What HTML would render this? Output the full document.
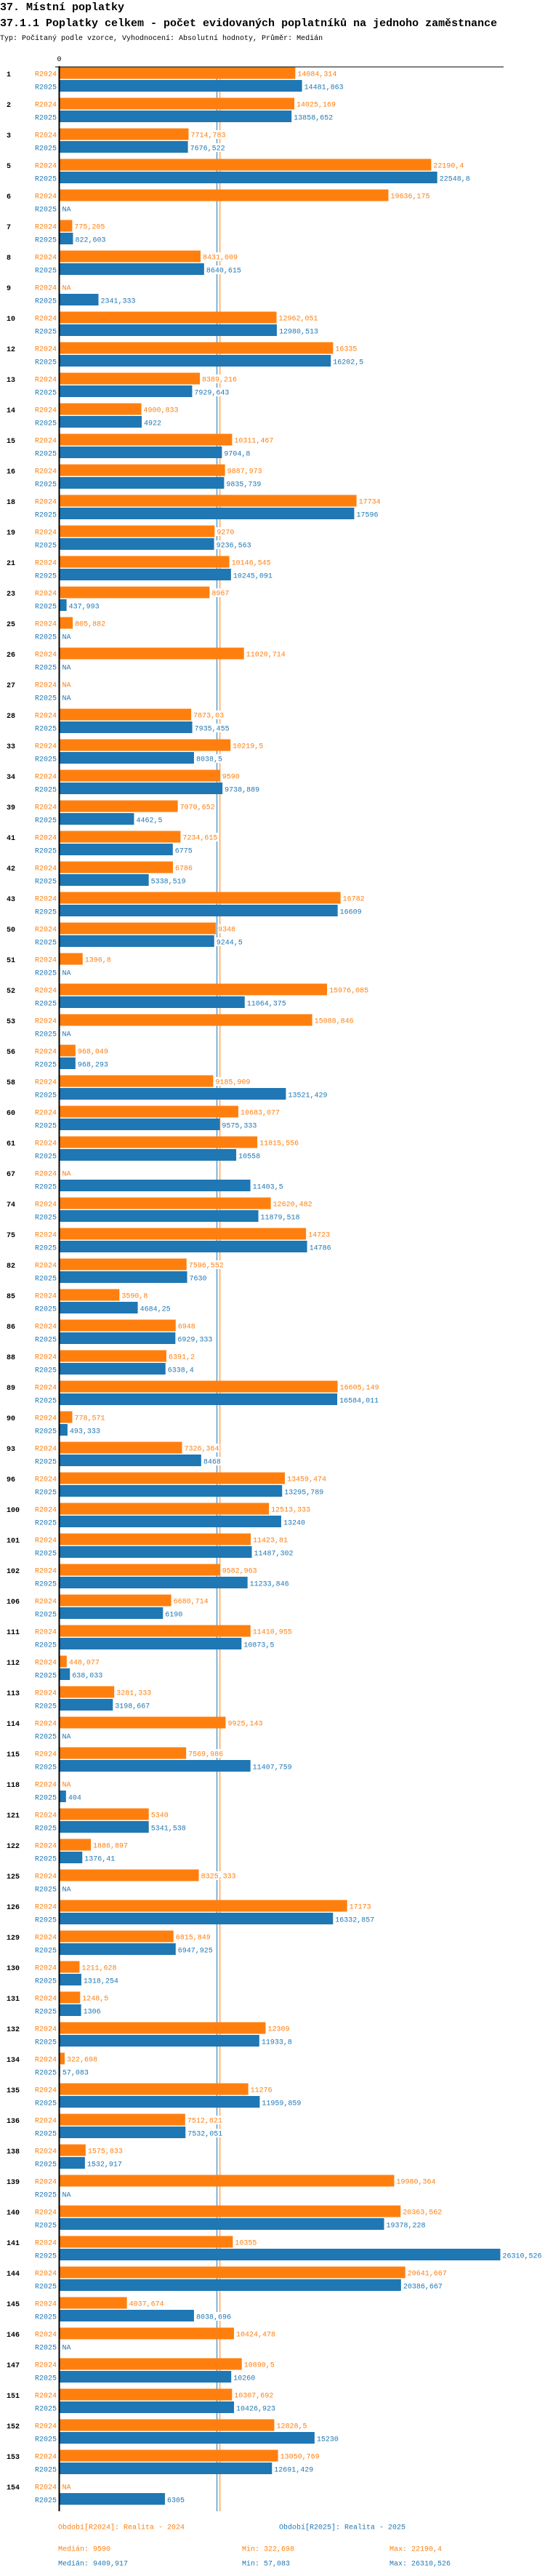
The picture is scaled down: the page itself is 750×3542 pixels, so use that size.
<!DOCTYPE html>
<html><head><meta charset="utf-8"><title>Poplatky celkem</title>
<style>
html,body{margin:0;padding:0;background:#fff;}
svg{display:block;font-family:"Liberation Mono",monospace;}
</style></head>
<body>
<svg id="chart" width="750" height="3542" viewBox="0 0 750 3542" xmlns="http://www.w3.org/2000/svg">
<text x="0" y="14" font-size="15" font-weight="bold" fill="#000">37. Místní poplatky</text>
<text x="0" y="36" font-size="15" font-weight="bold" fill="#000">37.1.1 Poplatky celkem - počet evidovaných poplatníků na jednoho zaměstnance</text>
<text x="0" y="55" font-size="10" fill="#000">Typ: Počítaný podle vzorce, Vyhodnocení: Absolutní hodnoty, Průměr: Medián</text>
<g id="plot"></g>
</svg>
<script>
const groups = [1,2,3,5,6,7,8,9,10,12,13,14,15,16,18,19,21,23,25,26,27,28,33,34,39,41,42,43,50,51,52,53,56,58,60,61,67,74,75,82,85,86,88,89,90,93,96,100,101,102,106,111,112,113,114,115,118,121,122,125,126,129,130,131,132,134,135,136,138,139,140,141,144,145,146,147,151,152,153,154];
const r2024 = [14084.314,14025.169,7714.783,22190.4,19636.175,775.205,8431.009,null,12962.051,16335,8389.216,4900.833,10311.467,9887.973,17734,9270,10146.545,8967,805.882,11020.714,null,7873.03,10219.5,9590,7070.652,7234.615,6786,16782,9348,1396.8,15976.085,15088.846,968.049,9185.909,10683.077,11815.556,null,12620.482,14723,7596.552,3590.8,6948,6391.2,16605.149,778.571,7326.364,13459.474,12513.333,11423.81,9582.963,6680.714,11410.955,448.077,3281.333,9925.143,7569.986,null,5340,1886.897,8325.333,17173,6815.849,1211.628,1248.5,12309,322.698,11276,7512.821,1575.833,19980.364,20363.562,10355,20641.667,4037.674,10424.478,10890.5,10307.692,12828.5,13050.769,null];
const r2025 = [14481.863,13858.652,7676.522,22548.8,null,822.603,8640.615,2341.333,12980.513,16202.5,7929.643,4922,9704.8,9835.739,17596,9236.563,10245.091,437.993,null,null,null,7935.455,8038.5,9738.889,4462.5,6775,5338.519,16609,9244.5,null,11064.375,null,968.293,13521.429,9575.333,10558,11403.5,11879.518,14786,7630,4684.25,6929.333,6338.4,16584.011,493.333,8468,13295.789,13240,11487.302,11233.846,6190,10873.5,638.033,3198.667,null,11407.759,404,5341.538,1376.41,null,16332.857,6947.925,1318.254,1306,11933.8,57.083,11959.859,7532.051,1532.917,null,19378.228,26310.526,20386.667,8038.696,null,10260,10426.923,15230,12691.429,6305];
const seriesNames = ["R2024","R2025"];
const medians = [9590, 9409.917];
const mins = ["322,698","57,083"];
const maxs = ["22190,4","26310,526"];
const legendTexts = ["Období[R2024]: Realita - 2024","Období[R2025]: Realita - 2025"];

const colors = ["#ff7f0e","#1f77b4"];
const X0 = 81.5, K = 0.02307, TOP = 92, PITCH = 42;
const xs = v => X0 + v * K;
const ys = i => TOP + i * PITCH;
const NS = "http://www.w3.org/2000/svg";
const plot = document.getElementById("plot");
function mk(tag, attrs, parent){ const e=document.createElementNS(NS,tag); for(const k in attrs) e.setAttribute(k,attrs[k]); (parent||plot).appendChild(e); return e; }
const fmt = v => String(v).replace('.', ',');
const bottom = ys(groups.length) + 1;

// median lines
medians.forEach((m,s)=>{
  const l = mk("line",{x1:xs(m),x2:xs(m),y1:TOP,y2:bottom,stroke:colors[s],"stroke-width":1});
  
  
});

// zero tick
const z = mk("text",{x:X0,y:84,"font-size":10,"text-anchor":"middle",fill:"#000"});
z.textContent = "0";



const labelLayer = document.createElementNS(NS,"g");
groups.forEach((g,i)=>{
  const gy = ys(i);
  const gl = mk("text",{x:9,y:gy+13,"font-size":10,"font-weight":"bold",fill:"#000"});
  gl.textContent = String(g);
  
  
  [r2024[i], r2025[i]].forEach((v,s)=>{
    const by = gy + (s===0 ? 0.5 : 18);
    const cy = gy + (s===0 ? 9 : 27);
    const sl = mk("text",{x:78,y:cy+3.5,"font-size":10,"text-anchor":"end",fill:colors[s]});
    sl.textContent = seriesNames[s];
    
    
    let endX = X0 + 1;
    if (v !== null) {
      const r = mk("rect",{x:X0+1,y:by,width:Math.max(0,xs(v)-X0-1),height:16,fill:colors[s]});
      
      
      endX = xs(v);
    }
    const txt = v === null ? "NA" : fmt(v);
    const bg = mk("rect",{x:endX+2,y:cy-6,width:txt.length*6+2,height:12,fill:"#fff"},labelLayer);
    
    
    const vt = mk("text",{x:endX+3,y:cy+3.5,"font-size":10,fill:colors[s]},labelLayer);
    vt.textContent = txt;
    
    
  });
});
plot.appendChild(labelLayer);

// axes
const ya = mk("line",{x1:X0,x2:X0,y1:TOP-1,y2:bottom,stroke:"#000","stroke-width":2});


const xa = mk("line",{x1:76,x2:693,y1:TOP,y2:TOP,stroke:"#000","stroke-width":1});



// legend
const legX = [80, 384];
legendTexts.forEach((t,s)=>{
  const e = mk("text",{x:legX[s],y:3477.5,"font-size":10,fill:colors[s]});
  e.textContent = t;
  
  
});
medians.forEach((m,s)=>{
  const yy = 3507.5 + s*20;
  const a = mk("text",{x:80,y:yy,"font-size":10,fill:colors[s]});
  a.textContent = "Medián: " + fmt(m);
  
  
  const b = mk("text",{x:333,y:yy,"font-size":10,fill:colors[s]});
  b.textContent = "Min: " + mins[s];
  
  
  const c = mk("text",{x:536,y:yy,"font-size":10,fill:colors[s]});
  c.textContent = "Max: " + maxs[s];
  
  
});
</script>
</body></html>
